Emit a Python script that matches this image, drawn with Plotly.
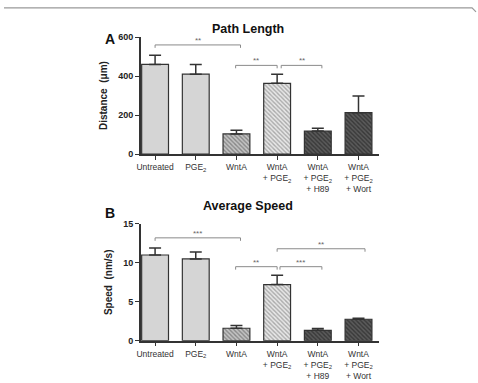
import plotly.graph_objects as go

W, H = 478, 383

categories = ["Untreated", "PGE<sub>2</sub>", "WntA", "WntA<br>+ PGE<sub>2</sub>",
              "WntA<br>+ PGE<sub>2</sub><br>+ H89", "WntA<br>+ PGE<sub>2</sub><br>+ Wort"]
path_length = [460, 410, 103, 363, 118, 212]
path_err = [47, 50, 19, 47, 14, 86]
avg_speed = [11.0, 10.5, 1.6, 7.2, 1.33, 2.75]
speed_err = [0.9, 0.9, 0.35, 1.2, 0.22, 0.12]

# significance brackets: (x0, x1, level, label)
sig_a = [(0, 2.1, 560, "**"), (1.98, 3.0, 455, "**"), (3.1, 4.1, 455, "**")]
sig_b = [(0, 2.1, 13.2, "***"), (1.98, 3.0, 9.5, "**"), (3.07, 4.1, 9.5, "***"), (3.0, 5.16, 11.8, "**")]

fill = ["#d5d5d5", "#d5d5d5", "#c4c4c4", "#e8e8e8", "#5a5a5a", "#5a5a5a"]
pat_shape = ["", "", "\\", "\\", "\\", "\\"]
pat_fg = ["#d5d5d5", "#d5d5d5", "#4a4a4a", "#6a6a6a", "#151515", "#151515"]

xs = list(range(len(categories)))

def px_x(p):
    return p / W

def px_y(p):
    return 1 - p / H

fig = go.Figure()

for vals, errs, xa, ya in [(path_length, path_err, "x", "y"), (avg_speed, speed_err, "x2", "y2")]:
    for i in xs:
        pattern = dict(shape=pat_shape[i], fgcolor=pat_fg[i], bgcolor=fill[i],
                       fillmode="overlay", size=3, solidity=0.45)
        fig.add_trace(go.Bar(
            x=[xs[i]], y=[vals[i]], xaxis=xa, yaxis=ya, width=0.66,
            marker=dict(color=fill[i], line=dict(color="#333333", width=1.2), pattern=pattern),
            error_y=dict(type="data", symmetric=False, array=[errs[i]], arrayminus=[0],
                         color="#333333", thickness=1.5, width=6),
            showlegend=False,
        ))

xdom = [px_x(138), px_x(378)]
axis_common = dict(showline=True, linecolor="#333333", linewidth=1.5, ticks="outside",
                   ticklen=4, tickcolor="#333333", tickwidth=1.2, showgrid=False, zeroline=False)

fig.update_layout(
    width=W, height=H, margin=dict(l=0, r=0, t=0, b=0),
    paper_bgcolor="white", plot_bgcolor="white",
    font=dict(family="Liberation Sans, Arial, sans-serif", color="#222222"),
    barmode="overlay",
    xaxis=dict(domain=xdom, range=[-0.35, 5.5], tickvals=xs, ticktext=categories,
               tickfont=dict(size=8.5, color="#333333"), anchor="y", **axis_common),
    yaxis=dict(domain=[px_y(153), px_y(33)], range=[0, 600], tickvals=[0, 200, 400, 600],
               tickfont=dict(size=9, weight="bold"), anchor="x",
               title=dict(text="Distance  (μm)", font=dict(size=10, weight="bold"), standoff=9),
               **axis_common),
    xaxis2=dict(domain=xdom, range=[-0.35, 5.5], tickvals=xs, ticktext=categories,
                tickfont=dict(size=8.5, color="#333333"), anchor="y2", **axis_common),
    yaxis2=dict(domain=[px_y(344.7), px_y(224.7)], range=[0, 15], tickvals=[0, 5, 10, 15],
                tickfont=dict(size=9, weight="bold"), anchor="x2",
                title=dict(text="Speed  (nm/s)", font=dict(size=10, weight="bold"), standoff=9),
                **axis_common),
)

shapes = []
annots = []
for sigs, xr, yr, drop in [(sig_a, "x", "y", 15), (sig_b, "x2", "y2", 0.38)]:
    for x0, x1, lvl, lab in sigs:
        shapes.append(dict(type="path", xref=xr, yref=yr,
                           path=f"M {x0},{lvl - drop} L {x0},{lvl} L {x1},{lvl} L {x1},{lvl - drop}",
                           line=dict(color="#8a8a8a", width=1)))
        annots.append(dict(x=(x0 + x1) / 2, y=lvl, xref=xr, yref=yr, text=lab, showarrow=False,
                           yanchor="bottom", yshift=-2, font=dict(size=8, color="#666666")))

# panel titles and letters
annots += [
    dict(x=px_x(246), y=px_y(15), xref="paper", yref="paper", text="<b>Path Length</b>",
         showarrow=False, font=dict(size=12.5, color="#111111")),
    dict(x=px_x(246), y=px_y(206), xref="paper", yref="paper", text="<b>Average Speed</b>",
         showarrow=False, font=dict(size=12.5, color="#111111")),
    dict(x=px_x(100), y=px_y(25), xref="paper", yref="paper", text="<b>A</b>",
         showarrow=False, font=dict(size=14, color="#111111")),
    dict(x=px_x(100), y=px_y(214), xref="paper", yref="paper", text="<b>B</b>",
         showarrow=False, font=dict(size=14, color="#111111")),
]

# top frame line
shapes.append(dict(type="path", xref="paper", yref="paper",
                   path=f"M 0,{px_y(3)} L {px_x(472)},{px_y(3)} L {px_x(476)},{px_y(7)}",
                   line=dict(color="#999999", width=1.2)))

fig.update_layout(shapes=shapes, annotations=annots)
fig.write_html("out.html")
